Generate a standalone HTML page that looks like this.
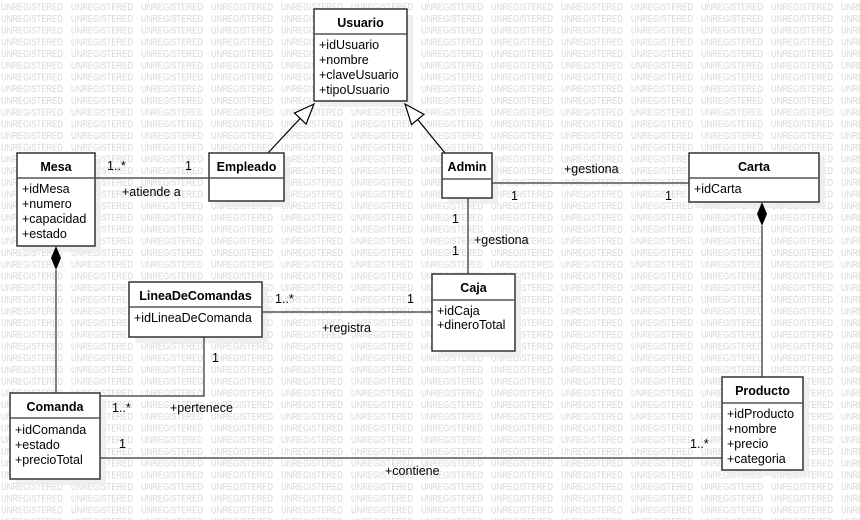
<!DOCTYPE html>
<html><head><meta charset="utf-8"><style>
html,body{margin:0;padding:0;background:#fff;}
svg{display:block;}
.t{font-family:"Liberation Sans",sans-serif;font-size:12.5px;fill:#000;}
.b{font-weight:bold;}
.w{font-family:"Liberation Sans",sans-serif;font-size:9.5px;fill:#d6d6d6;}
.box{fill:#fff;stroke:#333;stroke-width:1.5;}
.sh{fill:#ececec;}
.ln{stroke:#555;stroke-width:1.5;fill:none;}
</style></head><body>
<svg width="860" height="520" viewBox="0 0 860 520" xmlns="http://www.w3.org/2000/svg">
<defs>
<pattern id="wm" x="0" y="0" width="70" height="11.7" patternUnits="userSpaceOnUse">
<text class="w" x="1" y="10" textLength="62" lengthAdjust="spacingAndGlyphs">UNREGISTERED</text>
</pattern>
</defs>
<rect width="860" height="520" fill="url(#wm)"/>

<rect class="sh" x="320" y="15" width="93" height="92" opacity="0.8"/>
<rect class="sh" x="23" y="159" width="78" height="93" opacity="0.8"/>
<rect class="sh" x="215" y="159" width="75" height="48" opacity="0.8"/>
<rect class="sh" x="448" y="159" width="50" height="45" opacity="0.8"/>
<rect class="sh" x="695" y="159" width="130" height="49" opacity="0.8"/>
<rect class="sh" x="438" y="280" width="83" height="77" opacity="0.8"/>
<rect class="sh" x="135" y="288" width="133" height="55" opacity="0.8"/>
<rect class="sh" x="16" y="399" width="90" height="86" opacity="0.8"/>
<rect class="sh" x="728" y="383" width="81" height="93" opacity="0.8"/>

<line class="ln" x1="95" y1="178" x2="209" y2="178"/>
<line class="ln" x1="492" y1="183" x2="689" y2="183"/>
<line class="ln" x1="468" y1="198" x2="468" y2="274"/>
<line class="ln" x1="262" y1="312" x2="432" y2="312"/>
<polyline class="ln" points="204,337 204,396 100,396"/>
<line class="ln" x1="56" y1="270" x2="56" y2="393"/>
<line class="ln" x1="762" y1="226" x2="762" y2="377"/>
<line class="ln" x1="100" y1="458" x2="722" y2="458"/>
<line x1="268" y1="153" x2="300" y2="118.6" stroke="#000" stroke-width="1.2"/>
<line x1="445" y1="153" x2="417.7" y2="119.5" stroke="#000" stroke-width="1.2"/>
<polygon points="314,104 306.1,124.1 294.5,113.1" fill="#fff" stroke="#000" stroke-width="1.2"/>
<polygon points="405,104 423.9,114.4 411.5,124.6" fill="#fff" stroke="#000" stroke-width="1.2"/>
<polygon points="56,246 61,258 56,270 51,258" fill="#000"/>
<polygon points="762,202 767,214 762,226 757,214" fill="#000"/>

<rect class="box" x="314" y="9" width="93" height="92"/>
<line class="ln" x1="314" y1="34" x2="407" y2="34"/>
<text class="t b" x="360.5" y="27" text-anchor="middle">Usuario</text>
<text class="t" x="319" y="49">+idUsuario</text>
<text class="t" x="319" y="64">+nombre</text>
<text class="t" x="319" y="79">+claveUsuario</text>
<text class="t" x="319" y="94">+tipoUsuario</text>

<rect class="box" x="17" y="153" width="78" height="93"/>
<line class="ln" x1="17" y1="178" x2="95" y2="178"/>
<text class="t b" x="56" y="171" text-anchor="middle">Mesa</text>
<text class="t" x="22" y="193">+idMesa</text>
<text class="t" x="22" y="208">+numero</text>
<text class="t" x="22" y="223">+capacidad</text>
<text class="t" x="22" y="238">+estado</text>

<rect class="box" x="209" y="153" width="75" height="48"/>
<line class="ln" x1="209" y1="178" x2="284" y2="178"/>
<text class="t b" x="246.5" y="171" text-anchor="middle">Empleado</text>

<rect class="box" x="442" y="153" width="50" height="45"/>
<line class="ln" x1="442" y1="179" x2="492" y2="179"/>
<text class="t b" x="467" y="171" text-anchor="middle">Admin</text>

<rect class="box" x="689" y="153" width="130" height="49"/>
<line class="ln" x1="689" y1="178" x2="819" y2="178"/>
<text class="t b" x="754" y="171" text-anchor="middle">Carta</text>
<text class="t" x="694" y="193">+idCarta</text>

<rect class="box" x="432" y="274" width="83" height="77"/>
<line class="ln" x1="432" y1="300" x2="515" y2="300"/>
<text class="t b" x="473.5" y="292" text-anchor="middle">Caja</text>
<text class="t" x="437" y="315">+idCaja</text>
<text class="t" x="437" y="329">+dineroTotal</text>

<rect class="box" x="129" y="282" width="133" height="55"/>
<line class="ln" x1="129" y1="307" x2="262" y2="307"/>
<text class="t b" x="195.5" y="300" text-anchor="middle">LineaDeComandas</text>
<text class="t" x="134" y="322">+idLineaDeComanda</text>

<rect class="box" x="10" y="393" width="90" height="86"/>
<line class="ln" x1="10" y1="418" x2="100" y2="418"/>
<text class="t b" x="55" y="411" text-anchor="middle">Comanda</text>
<text class="t" x="15" y="434">+idComanda</text>
<text class="t" x="15" y="449">+estado</text>
<text class="t" x="15" y="464">+precioTotal</text>

<rect class="box" x="722" y="377" width="81" height="93"/>
<line class="ln" x1="722" y1="403" x2="803" y2="403"/>
<text class="t b" x="762.5" y="395" text-anchor="middle">Producto</text>
<text class="t" x="727" y="418">+idProducto</text>
<text class="t" x="727" y="433">+nombre</text>
<text class="t" x="727" y="448">+precio</text>
<text class="t" x="727" y="463">+categoria</text>

<text class="t" x="107" y="170">1..*</text>
<text class="t" x="185" y="170">1</text>
<text class="t" x="122" y="196">+atiende a</text>
<text class="t" x="564" y="173">+gestiona</text>
<text class="t" x="511" y="200">1</text>
<text class="t" x="665" y="200">1</text>
<text class="t" x="452" y="223">1</text>
<text class="t" x="452" y="255">1</text>
<text class="t" x="474" y="244">+gestiona</text>
<text class="t" x="275" y="303">1..*</text>
<text class="t" x="407" y="303">1</text>
<text class="t" x="322" y="332">+registra</text>
<text class="t" x="212" y="362">1</text>
<text class="t" x="112" y="412">1..*</text>
<text class="t" x="170" y="412">+pertenece</text>
<text class="t" x="119" y="448">1</text>
<text class="t" x="690" y="448">1..*</text>
<text class="t" x="385" y="475">+contiene</text>
</svg>
</body></html>
